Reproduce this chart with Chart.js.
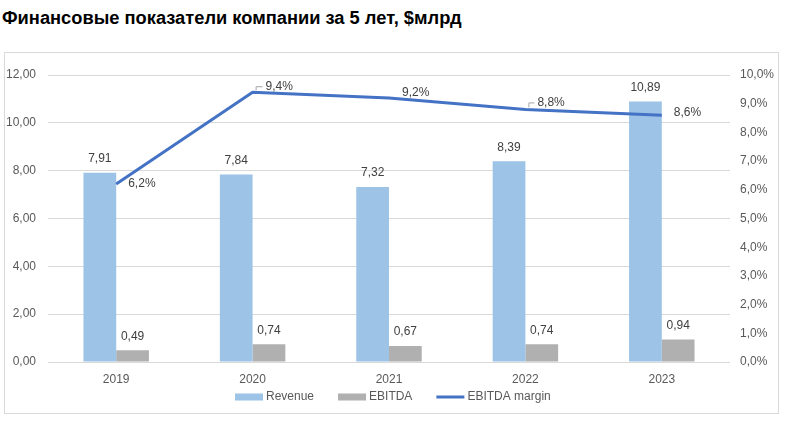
<!DOCTYPE html>
<html>
<head>
<meta charset="utf-8">
<script src="https://cdn.jsdelivr.net/npm/chart.js@4"></script>
<style>
  body { margin: 0; background: #fff; width: 786px; height: 425px; overflow: hidden; position: relative; }
  #title { position: absolute; left: 2px; top: 7px; font: bold 18.3px "Liberation Sans", Arial, sans-serif; color: #000; white-space: nowrap; }
  #frame { position: absolute; left: 4px; top: 52px; width: 773px; height: 360px; border: 1px solid #d9d9d9; }
  #chart { position: absolute; left: 0; top: 0; }
</style>
</head>
<body>
<div id="title">Финансовые показатели компании за 5 лет, $млрд</div>
<div id="frame"></div>
<canvas id="chart" width="786" height="425"></canvas>
<script>
const years = ['2019', '2020', '2021', '2022', '2023'];
const revenue = [7.91, 7.84, 7.32, 8.39, 10.89];
const ebitda = [0.49, 0.74, 0.67, 0.74, 0.94];
const ebitdaMargin = [6.2, 9.4, 9.2, 8.8, 8.6];

const fmt = (v, d) => v.toFixed(d).replace('.', ',');
const FONT = '12px "Liberation Sans", Arial, sans-serif';

// margin label offsets (dx, dy) and whether a leader line is drawn
const marginLabelPos = [
  { dx: 12, dy: 0, leader: false },
  { dx: 13, dy: -6, leader: true },
  { dx: 13, dy: -5, leader: false },
  { dx: 12, dy: -7, leader: true },
  { dx: 12, dy: -2, leader: false }
];

// simple data labels plugin (no datalabels lib available offline)
const valueLabels = {
  id: 'valueLabels',
  afterDatasetsDraw(chart) {
    const ctx = chart.ctx;
    ctx.save();
    ctx.font = FONT;
    ctx.fillStyle = '#404040';
    ctx.textBaseline = 'middle';

    [0, 1].forEach(di => {
      const meta = chart.getDatasetMeta(di);
      const data = chart.data.datasets[di].data;
      meta.data.forEach((bar, i) => {
        ctx.textAlign = 'center';
        ctx.fillText(fmt(data[i], 2), bar.x, bar.y - 14);
      });
    });

    const lineMeta = chart.getDatasetMeta(2);
    lineMeta.data.forEach((pt, i) => {
      const p = marginLabelPos[i];
      const lx = pt.x + p.dx;
      const ly = pt.y + p.dy;
      if (p.leader) {
        ctx.strokeStyle = '#a6a6a6';
        ctx.lineWidth = 1;
        ctx.beginPath();
        ctx.moveTo(pt.x + 3.5, pt.y - 2);
        ctx.lineTo(pt.x + 3.5, ly + 0.5);
        ctx.lineTo(lx - 3, ly + 0.5);
        ctx.stroke();
      }
      ctx.textAlign = 'left';
      ctx.fillText(fmt(ebitdaMargin[i], 1) + '%', lx, ly);
    });
    ctx.restore();
  }
};

// Excel-like legend under the x axis
const bottomLegend = {
  id: 'bottomLegend',
  afterDraw(chart) {
    const ctx = chart.ctx;
    const sets = chart.data.datasets;
    const boxW = 28, textGap = 3, itemGap = 24;
    ctx.save();
    ctx.font = FONT;
    const widths = sets.map(ds => boxW + textGap + ctx.measureText(ds.label).width);
    const total = widths.reduce((a, b) => a + b, 0) + itemGap * (sets.length - 1);
    let x = Math.round(chart.width / 2 - total / 2);
    const y = 397;
    ctx.textBaseline = 'middle';
    ctx.textAlign = 'left';
    sets.forEach((ds, i) => {
      if (ds.type === 'line') {
        ctx.strokeStyle = ds.borderColor;
        ctx.lineWidth = ds.borderWidth;
        ctx.beginPath();
        ctx.moveTo(x, y);
        ctx.lineTo(x + boxW, y);
        ctx.stroke();
      } else {
        ctx.fillStyle = ds.backgroundColor;
        ctx.fillRect(x, y - 3.5, boxW, 7);
      }
      ctx.fillStyle = '#595959';
      ctx.fillText(ds.label, x + boxW + textGap, y);
      x += widths[i] + itemGap;
    });
    ctx.restore();
  }
};

Chart.defaults.font.family = '"Liberation Sans", Arial, sans-serif';
Chart.defaults.font.size = 12;
Chart.defaults.color = '#595959';

new Chart(document.getElementById('chart'), {
  type: 'bar',
  data: {
    labels: years,
    datasets: [
      {
        label: 'Revenue',
        data: revenue,
        backgroundColor: '#9dc3e6',
        yAxisID: 'y',
        order: 1
      },
      {
        label: 'EBITDA',
        data: ebitda,
        backgroundColor: '#b0b0b0',
        yAxisID: 'y',
        order: 1
      },
      {
        type: 'line',
        label: 'EBITDA margin',
        data: ebitdaMargin,
        borderColor: '#4472c4',
        backgroundColor: '#4472c4',
        borderWidth: 3,
        pointRadius: 0,
        tension: 0,
        yAxisID: 'y1',
        order: 0
      }
    ]
  },
  options: {
    responsive: false,
    animation: false,
    devicePixelRatio: 1,
    categoryPercentage: 0.48,
    barPercentage: 1,
    layout: { padding: { top: 75, left: 0, right: 0, bottom: 37 } },
    scales: {
      x: {
        grid: { display: false, drawTicks: false },
        border: { display: false },
        ticks: { color: '#595959', padding: 10 },
        afterFit: s => { s.height = 26; }
      },
      y: {
        position: 'left',
        min: 0,
        max: 12,
        grid: { color: '#d9d9d9', drawTicks: false },
        border: { display: false },
        ticks: { stepSize: 2, padding: 12, callback: v => fmt(v, 2) },
        afterFit: s => { s.width = 48; }
      },
      y1: {
        position: 'right',
        min: 0,
        max: 10,
        grid: { display: false, drawTicks: false },
        border: { display: false },
        ticks: { stepSize: 1, padding: 10, callback: v => fmt(v, 1) + '%' },
        afterFit: s => { s.width = 56; }
      }
    },
    plugins: {
      legend: { display: false },
      tooltip: { enabled: false }
    }
  },
  plugins: [valueLabels, bottomLegend]
});
</script>
</body>
</html>
